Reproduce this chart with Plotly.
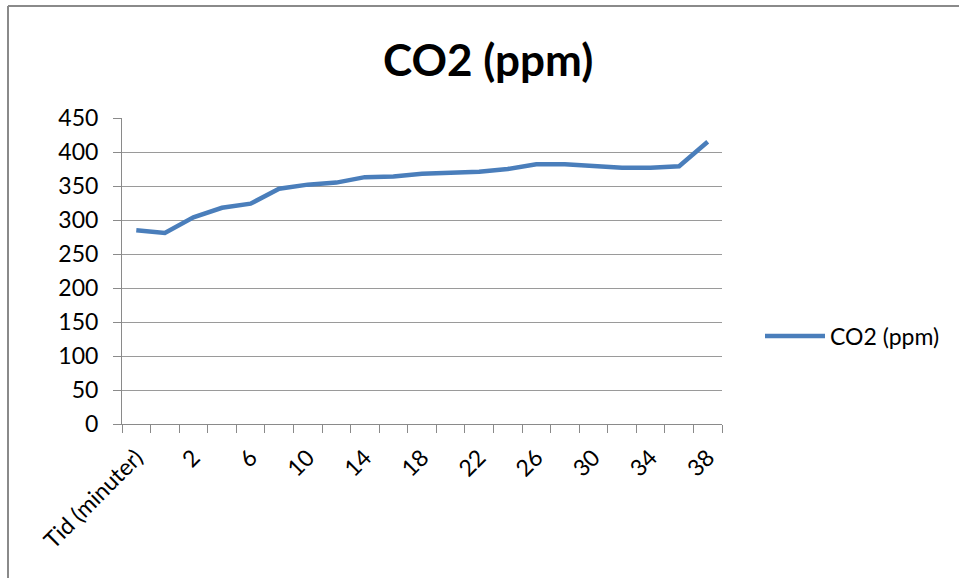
import plotly.graph_objects as go

# Time categories (minutes) and CO2 readings
categories = ["Tid (minuter)"] + [str(m) for m in range(0, 40, 2)]
co2_ppm = [285, 281, 304, 318, 324, 346, 352, 355, 363, 364, 368,
           369, 371, 375, 382, 382, 379, 377, 377, 379, 415]
tick_labels = [c if i % 2 == 0 else "" for i, c in enumerate(categories)]

series_name = "CO2 (ppm)"
title_text = "CO2 (ppm)"

FONT = "Lato, 'Open Sans', sans-serif"
AXIS_GRAY = "#8a8a8a"
GRID_GRAY = "#9a9a9a"
LINE_BLUE = "#4a7ebb"

W, H = 959, 578
ML, MR, MT, MB = 122, 237, 118, 154
PW, PH = W - ML - MR, H - MT - MB

fig = go.Figure()
fig.add_trace(go.Scatter(
    x=categories, y=co2_ppm, mode="lines", name=series_name,
    line=dict(color=LINE_BLUE, width=4.5),
))

# outer chart border (top and left edges)
def px_to_paper_x(px):
    return (px - ML) / PW

def px_to_paper_y(py):
    return (H - MB - py) / PH

fig.update_layout(
    width=W, height=H,
    margin=dict(l=ML, r=MR, t=MT, b=MB, pad=0),
    paper_bgcolor="white", plot_bgcolor="white",
    font=dict(family=FONT, size=23, color="#000000"),
    title=dict(text="<b>" + title_text + "</b>", x=0.509, xanchor="center",
               y=1 - 61 / H, yanchor="middle",
               font=dict(family=FONT, size=44, color="#000000")),
    showlegend=True,
    legend=dict(x=px_to_paper_x(760), xanchor="left", y=px_to_paper_y(336),
                yanchor="middle", bgcolor="rgba(0,0,0,0)",
                font=dict(family=FONT, size=23), itemwidth=60),
    shapes=[
        dict(type="line", xref="paper", yref="paper",
             x0=px_to_paper_x(8), x1=px_to_paper_x(W + 5),
             y0=px_to_paper_y(6), y1=px_to_paper_y(6),
             line=dict(color=AXIS_GRAY, width=2)),
        dict(type="line", xref="paper", yref="paper",
             x0=px_to_paper_x(8), x1=px_to_paper_x(8),
             y0=px_to_paper_y(6), y1=px_to_paper_y(H + 5),
             line=dict(color=AXIS_GRAY, width=2)),
    ],
)

fig.update_xaxes(
    type="category", tickmode="array", tickvals=categories, ticktext=tick_labels,
    tickson="boundaries", ticks="outside", ticklen=8, tickcolor=AXIS_GRAY,
    tickwidth=1, showline=True, linecolor=AXIS_GRAY, linewidth=1,
    showgrid=False, tickangle=-45, tickfont=dict(family=FONT, size=23),
    range=[-0.5, len(categories) - 0.5], zeroline=False,
    ticklabelstandoff=10,
)
fig.update_yaxes(
    range=[0, 450], tickmode="linear", tick0=0, dtick=50,
    ticks="outside", ticklen=8, tickcolor=AXIS_GRAY, tickwidth=1,
    showline=True, linecolor=AXIS_GRAY, linewidth=1,
    showgrid=True, gridcolor=GRID_GRAY, gridwidth=1, zeroline=False,
    tickfont=dict(family=FONT, size=23), ticklabelstandoff=10,
)

fig.write_html("out.html")
